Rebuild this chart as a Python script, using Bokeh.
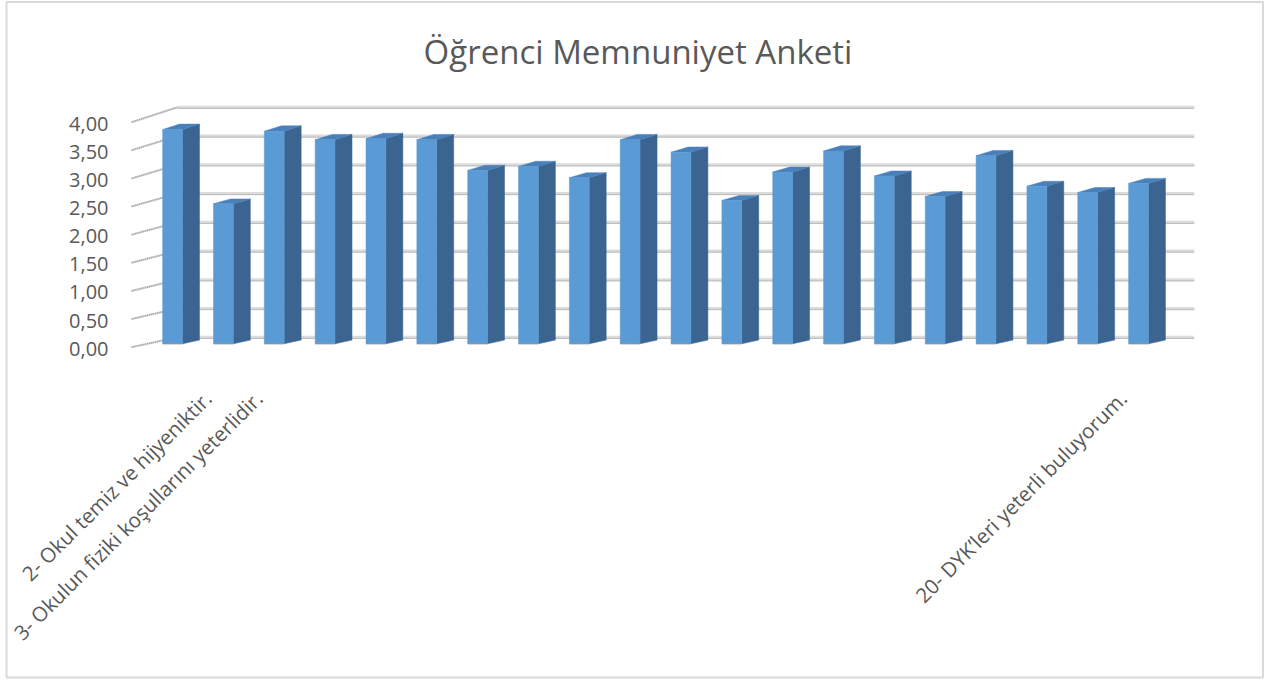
import numpy as np
from bokeh.plotting import figure
from bokeh.models import Range1d, ColumnDataSource
from bokeh.core.properties import value
from bokeh.embed import file_html
from bokeh.resources import INLINE

# ---------------- data ----------------
title_text = "Öğrenci Memnuniyet Anketi"
categories = ["", "2- Okul temiz ve hijyeniktir.", "3- Okulun fiziki koşullarını yeterlidir.",
              "", "", "", "", "", "", "", "", "", "", "", "", "", "", "", "",
              "20- DYK’leri yeterli buluyorum."]
scores = [3.78, 2.47, 3.75, 3.60, 3.62, 3.60, 3.06, 3.13, 2.93, 3.60,
          3.38, 2.53, 3.03, 3.40, 2.96, 2.60, 3.32, 2.78, 2.67, 2.83]
tick_values = [0.0, 0.5, 1.0, 1.5, 2.0, 2.5, 3.0, 3.5, 4.0]
tick_labels = ["0,00", "0,50", "1,00", "1,50", "2,00", "2,50", "3,00", "3,50", "4,00"]

# ---------------- layout / projection constants ----------------
W, H = 1264, 680
PX_X = 50.84          # px per category
PX_Y = 56.25          # px per value unit (front plane)
X_LEFT = 131          # x of front-plane left edge (category 0.5)
Y0 = 346.7            # y of front-plane value 0
DX = 46 / PX_X        # full depth x shift
DY = 10 / PX_Y        # full depth y shift
PZ = 0.0222           # perspective growth of value scale with depth
Z0, Z1 = 0.34, 0.71   # bar depth extent
BW = 0.39             # bar front width (category units)

x0 = 0.5 - X_LEFT / PX_X
x1 = x0 + W / PX_X
y1 = Y0 / PX_Y
y0 = y1 - H / PX_Y

def px2x(px):
    return x0 + px / PX_X

def py2y(py):
    return y1 - py / PX_Y

def proj(x, v, z):
    return x + z * DX, v * (1 + PZ * z) + z * DY

n = len(scores)
xs = np.arange(1, n + 1, dtype=float)
vals = np.array(scores)

p = figure(width=W, height=H, output_backend="svg", toolbar_location=None,
           x_range=Range1d(x0, x1), y_range=Range1d(y0, y1),
           x_axis_location=None, y_axis_location=None,
           min_border=0, min_border_left=0, min_border_right=0,
           min_border_top=0, min_border_bottom=0)
p.xgrid.visible = False
p.ygrid.visible = False
p.outline_line_color = None
p.background_fill_color = "white"

# back wall gridlines
gx, gy, gy2 = [], [], []
for g in tick_values:
    xa, ya = proj(0.5, g, 1.0)
    xb, yb = proj(n + 0.5, g, 1.0)
    gx.append([xa, xb]); gy.append([ya, yb]); gy2.append([ya - 1.2 / PX_Y, yb - 1.2 / PX_Y])
p.multi_line(gx, gy, line_color="#dcdcdc", line_width=3)
p.multi_line(gx, gy2, line_color="#bababa", line_width=1)

# side wall depth ticks
sx, sy = [], []
for g in tick_values:
    xa, ya = proj(0.5, g, 0.0)
    xb, yb = proj(0.5, g, 1.0)
    sx.append([xa, xb]); sy.append([ya, yb])
p.multi_line(sx, sy, line_color="#d0d0d0", line_width=2)
p.multi_line(sx, sy, line_color="#a8a8a8", line_width=1.5, line_dash="1 1")

# bars
front_l = xs + Z0 * DX - BW / 2
front_r = xs + Z0 * DX + BW / 2
yb0 = Z0 * DY
yb1 = Z1 * DY
yt0 = vals * (1 + PZ * Z0) + Z0 * DY
yt1 = vals * (1 + PZ * Z1) + Z1 * DY
back_l = front_l + (Z1 - Z0) * DX
back_r = front_r + (Z1 - Z0) * DX

side_x = [[a, b, b, a] for a, b in zip(front_r, back_r)]
side_y = [[yb0, yb1, t1, t0] for t0, t1 in zip(yt0, yt1)]
top_x = [[a, b, d, c] for a, b, c, d in zip(front_l, front_r, back_l, back_r)]
top_y = [[t0, t0, t1, t1] for t0, t1 in zip(yt0, yt1)]

p.patches(side_x, side_y, fill_color="#3b6590", line_color="#3b6590", line_width=0.5)
p.patches(top_x, top_y, fill_color="#4a80ba", line_color="#4a80ba", line_width=0.5)
p.quad(left=front_l, right=front_r, bottom=yb0, top=yt0,
       fill_color="#5b9bd5", line_color="#5b9bd5", line_width=0.5)
p.segment(x0=front_l, x1=front_r, y0=yb0, y1=yb0, line_color="#7f7f7f",
          line_width=1, line_alpha=0.6)

# y tick labels
tick_src = ColumnDataSource(dict(x=[px2x(108)] * len(tick_values),
                                 y=[v - 1.5 / PX_Y for v in tick_values],
                                 t=tick_labels))
p.text(x="x", y="y", text="t", source=tick_src, text_align="right", text_baseline="middle",
       text_font=value("Open Sans"), text_font_size="20px", text_color="#595959")

# category labels (rotated)
lab_idx = [i for i, c in enumerate(categories) if c]
lab_src = ColumnDataSource(dict(x=[xs[i] + 0.0 for i in lab_idx],
                                y=[py2y(394)] * len(lab_idx),
                                t=[categories[i] for i in lab_idx]))
p.text(x="x", y="y", text="t", source=lab_src, angle=np.pi / 4, text_align="right",
       text_baseline="middle", text_font=value("Open Sans"), text_font_size="20.5px",
       text_color="#595959")

# chart border (drawn over the labels, as in the original)
p.quad(left=[px2x(-10)], right=[px2x(5)], top=[py2y(0)], bottom=[py2y(680)],
       fill_color="white", line_color=None)
p.quad(left=[px2x(6)], right=[px2x(1262.5)], top=[py2y(1.5)], bottom=[py2y(677)],
       fill_color=None, line_color="#d9d9d9", line_width=2)

# title
p.text(x=[px2x(637.5)], y=[py2y(51)], text=[title_text],
       text_align="center", text_baseline="middle", text_font=value("Open Sans"),
       text_font_size="33px", text_color="#595959")

open("out.html", "w").write(file_html(p, INLINE))
